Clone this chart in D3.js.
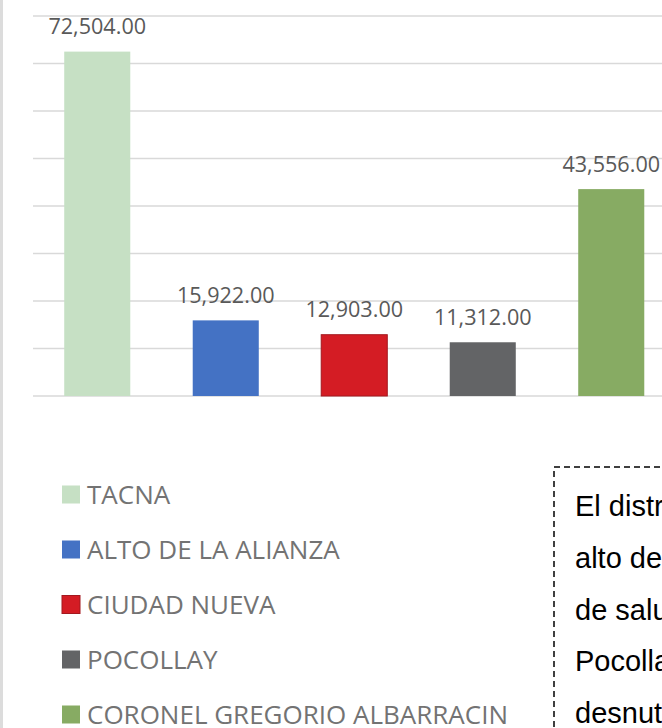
<!DOCTYPE html>
<html>
<head>
<meta charset="utf-8">
<script src="https://cdn.jsdelivr.net/npm/d3@7"></script>
<style>
  html, body { margin: 0; padding: 0; background: #fff; overflow: hidden; }
  svg { display: block; }
</style>
</head>
<body>
<svg id="chart" width="662" height="728"></svg>
<script>
// Districts and their counts
const districts = ["TACNA", "ALTO DE LA ALIANZA", "CIUDAD NUEVA", "POCOLLAY", "CORONEL GREGORIO ALBARRACIN"];
const values = [72504, 15922, 12903, 11312, 43556];
const fills = ["#c6e0c4", "#4472c4", "#d41c24", "#636466", "#87ab63"];
const strokes = ["none", "none", "#a3181f", "none", "none"];
const yTicks = [0, 10000, 20000, 30000, 40000, 50000, 60000, 70000, 80000];

// Note text beside the legend
const noteLines = ["El distrito", "alto de la", "de salud", "Pocollay", "desnutrición"];

const svg = d3.select("#chart");
const W = 662, H = 728;

// light frame edge on the left
svg.append("rect").attr("x", 0).attr("y", 0).attr("width", 3).attr("height", H).attr("fill", "#dcdcdc");

const x = d3.scaleBand()
  .domain(districts)
  .range([33, 675.5])
  .paddingInner(0.486)
  .paddingOuter(0.243);

const y = d3.scaleLinear().domain([0, 80000]).range([396, 16]);

// horizontal gridlines
svg.append("g")
  .selectAll("line")
  .data(yTicks)
  .join("line")
  .attr("x1", 33)
  .attr("x2", 676)
  .attr("y1", d => y(d))
  .attr("y2", d => y(d))
  .attr("stroke", "#d9d9d9")
  .attr("stroke-width", 1.5);

// bars
svg.append("g")
  .selectAll("rect")
  .data(districts)
  .join("rect")
  .attr("x", d => x(d))
  .attr("width", x.bandwidth())
  .attr("y", (d, i) => y(values[i]))
  .attr("height", (d, i) => y(0) - y(values[i]))
  .attr("fill", (d, i) => fills[i])
  .attr("stroke", (d, i) => strokes[i])
  .attr("stroke-width", 1);

// value labels
const fmt = d3.format(",.2f");
svg.append("g")
  .selectAll("text")
  .data(districts)
  .join("text")
  .attr("x", d => x(d) + x.bandwidth() / 2)
  .attr("y", (d, i) => y(values[i]) - 17.5)
  .attr("text-anchor", "middle")
  .attr("font-family", "'Open Sans', sans-serif")
  .attr("font-size", 21.6)
  .attr("fill", "#595959")
  .text((d, i) => fmt(values[i]));

// legend
const legend = svg.append("g")
  .selectAll("g")
  .data(districts)
  .join("g")
  .attr("transform", (d, i) => `translate(62, ${494.5 + i * 55})`);

legend.append("rect")
  .attr("x", 0)
  .attr("y", -9)
  .attr("width", 18)
  .attr("height", 18)
  .attr("fill", (d, i) => fills[i])
  .attr("stroke", (d, i) => strokes[i])
  .attr("stroke-width", 1);

legend.append("text")
  .attr("x", 25)
  .attr("y", 9.5)
  .attr("font-family", "'Open Sans', sans-serif")
  .attr("font-size", 26)
  .attr("fill", "#737373")
  .text(d => d);

// dashed note box
svg.append("rect")
  .attr("x", 554)
  .attr("y", 467)
  .attr("width", 300)
  .attr("height", 400)
  .attr("fill", "none")
  .attr("stroke", "#000")
  .attr("stroke-width", 1.5)
  .attr("stroke-dasharray", "6,4");

svg.append("g")
  .selectAll("text")
  .data(noteLines)
  .join("text")
  .attr("x", 575)
  .attr("y", (d, i) => 516 + i * 51.75)
  .attr("font-family", "'Liberation Sans', Arial, sans-serif")
  .attr("font-size", 29)
  .attr("fill", "#000")
  .text(d => d);
</script>
</body>
</html>
